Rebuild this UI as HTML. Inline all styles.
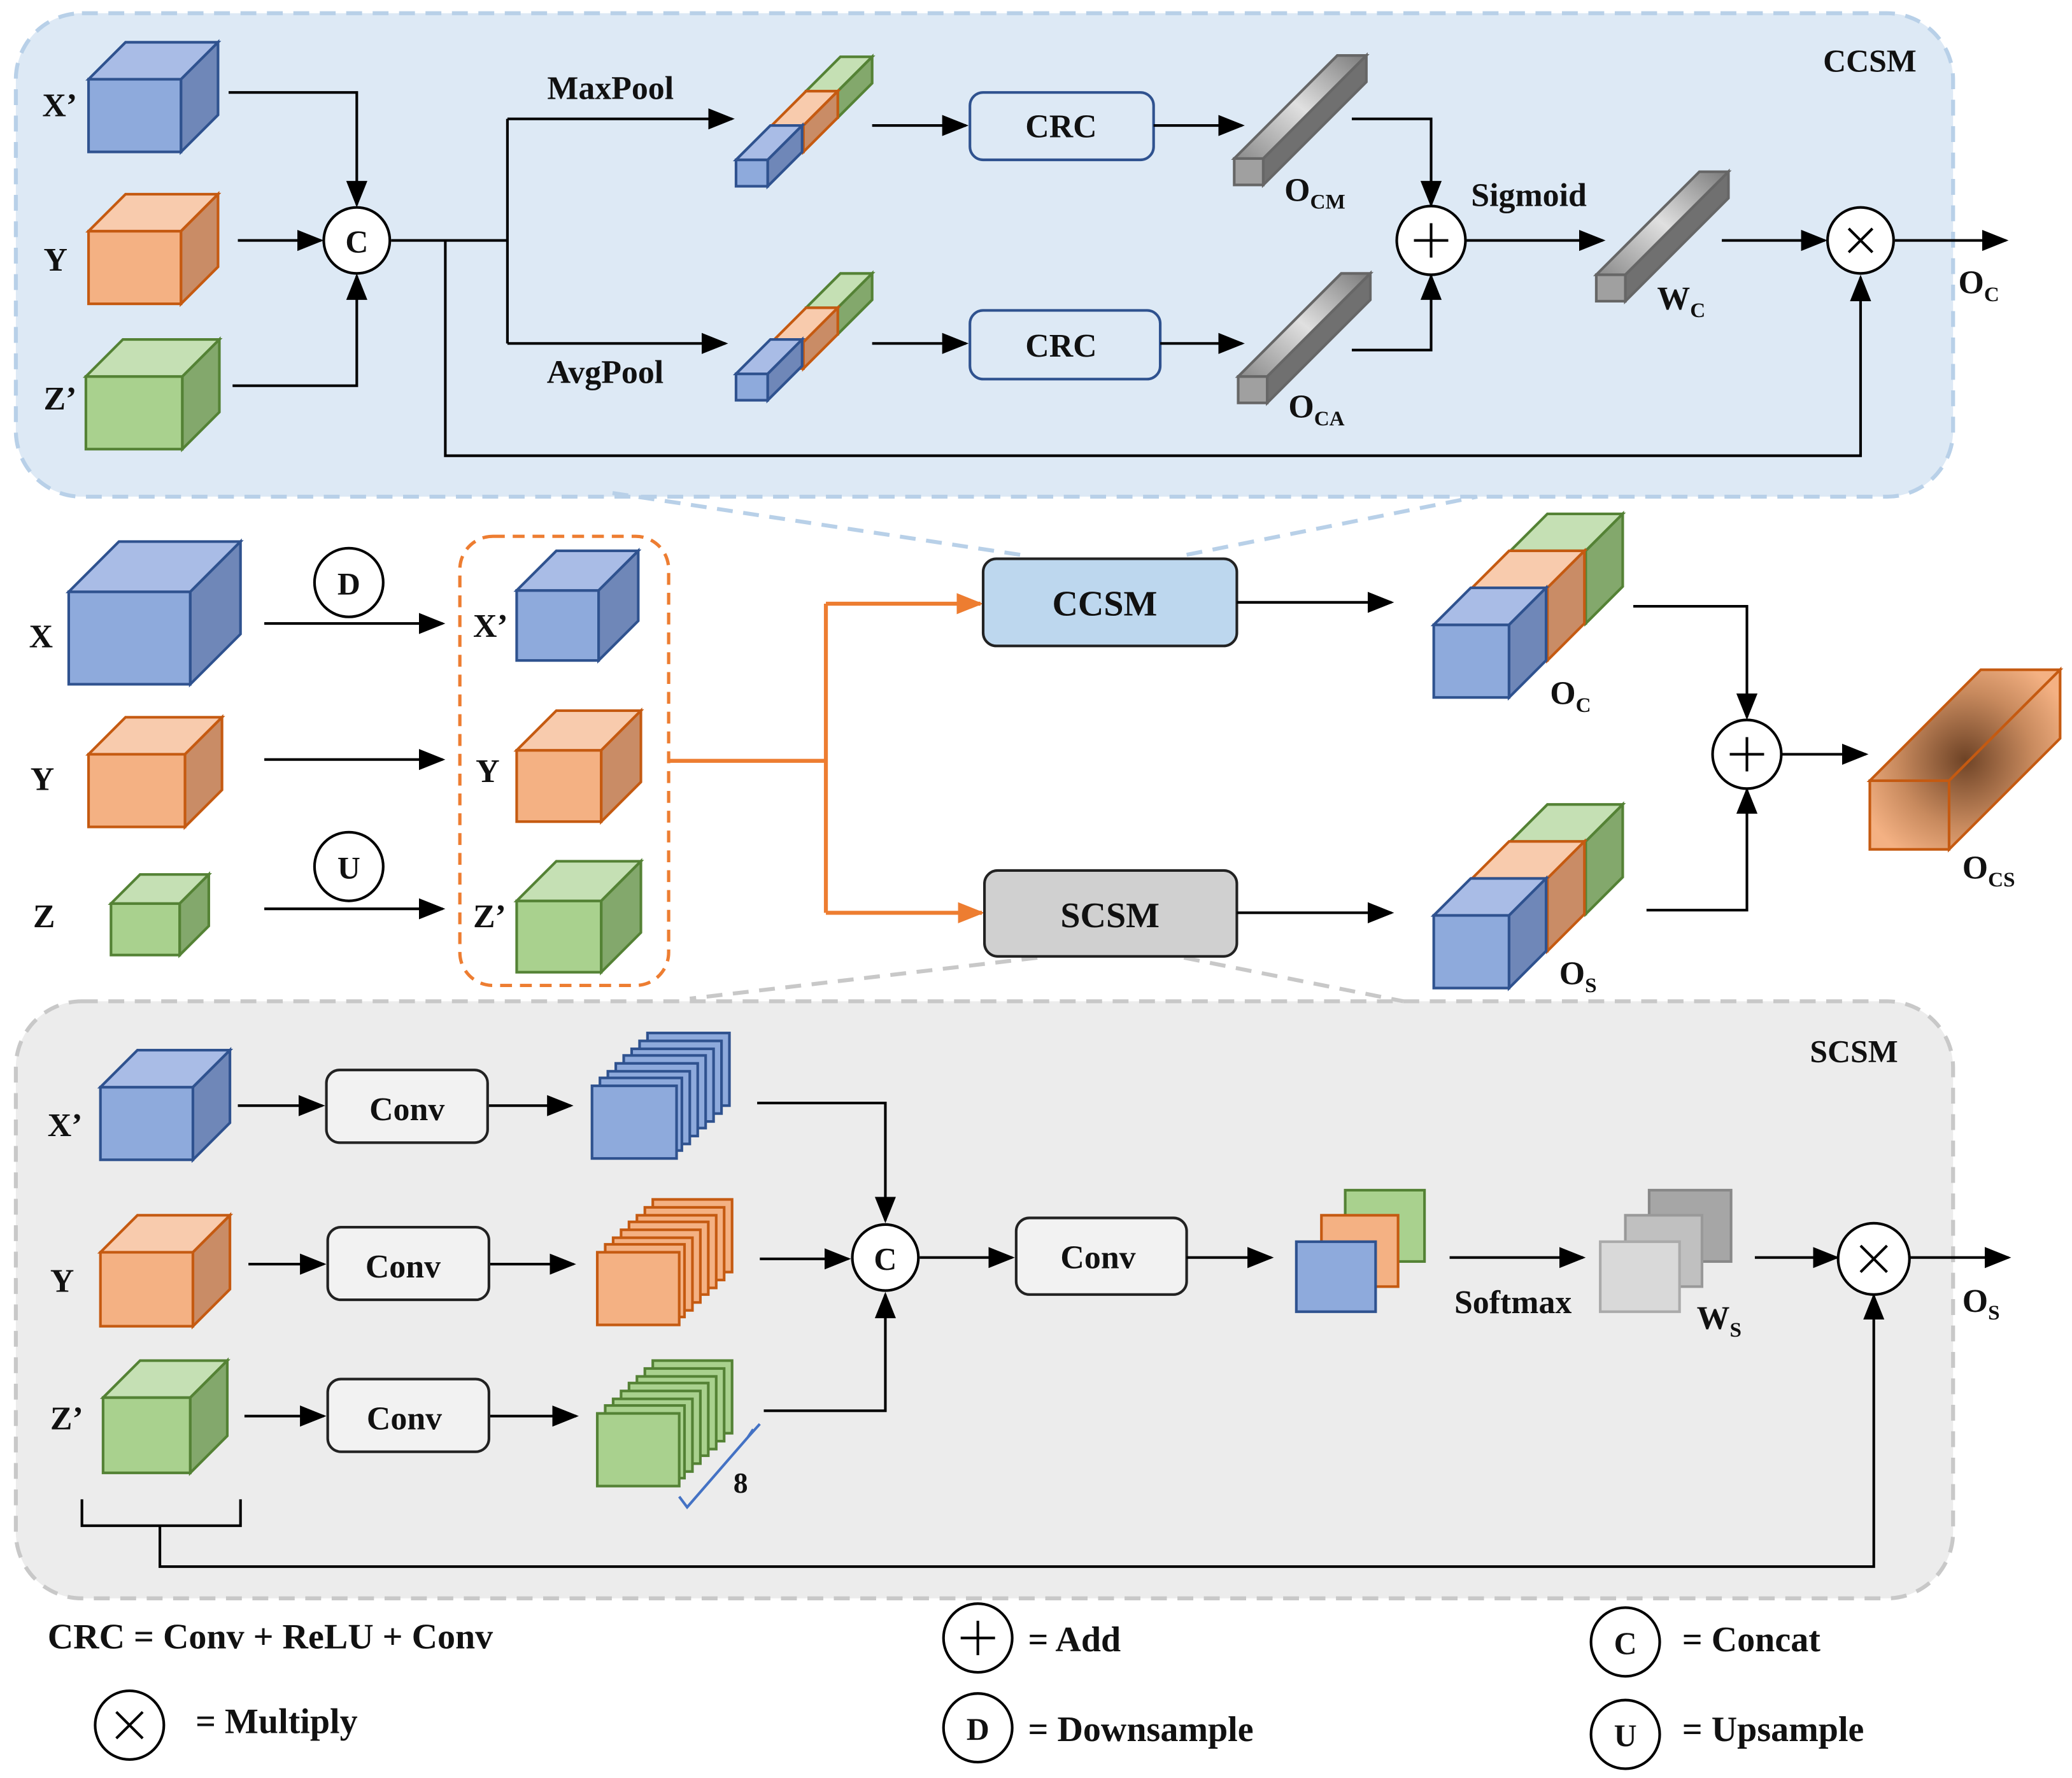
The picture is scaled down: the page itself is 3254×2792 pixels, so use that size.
<!DOCTYPE html>
<html><head><meta charset="utf-8"><style>
html,body{margin:0;padding:0;background:#fff;}
svg{display:block;}
text{font-family:"Liberation Serif",serif;font-weight:bold;fill:#111;}
</style></head><body>
<svg width="3254" height="2792" viewBox="0 0 1568 1346" preserveAspectRatio="none" xmlns="http://www.w3.org/2000/svg">
<defs>
<marker id="ao" markerWidth="20" markerHeight="20" refX="18" refY="10" orient="auto" markerUnits="userSpaceOnUse" viewBox="0 0 20 20"><path d="M0,2 L20,10 L0,18 z" fill="#ed7d31"/></marker>
<marker id="ab" markerWidth="20" markerHeight="20" refX="18" refY="10" orient="auto" markerUnits="userSpaceOnUse" viewBox="0 0 20 20"><path d="M0,2 L20,10 L0,18 z" fill="#000"/></marker>
<linearGradient id="g" x1="0" y1="1" x2="1" y2="0"><stop offset="0" stop-color="#8a8a8a"/><stop offset="0.5" stop-color="#e0e0e0"/><stop offset="1" stop-color="#7a7a7a"/></linearGradient>
<radialGradient id="og" gradientUnits="userSpaceOnUse" cx="1487" cy="575" r="85"><stop offset="0" stop-color="#6e4326"/><stop offset="0.6" stop-color="#c88a5e"/><stop offset="1" stop-color="#f4b183"/></radialGradient>
</defs>
<style>
.l{stroke:#000;stroke-width:2;fill:none}
.ar{stroke:#000;stroke-width:2;fill:none;marker-end:url(#ab)}
.bf{fill:#8eaadc;stroke:#2f528f;stroke-width:2}.bt{fill:#a9bce6;stroke:#2f528f;stroke-width:2}.bs{fill:#6f87b8;stroke:#2f528f;stroke-width:2}
.of{fill:#f4b183;stroke:#c55a11;stroke-width:2}.ot{fill:#f8cbad;stroke:#c55a11;stroke-width:2}.os{fill:#c98c66;stroke:#c55a11;stroke-width:2}
.gf{fill:#a9d18e;stroke:#548235;stroke-width:2}.gt{fill:#c5e0b4;stroke:#548235;stroke-width:2}.gs{fill:#83a86c;stroke:#548235;stroke-width:2}
.yf{fill:#a0a0a0;stroke:#666;stroke-width:2}.yt{fill:url(#g);stroke:#666;stroke-width:2}.ys{fill:#707070;stroke:#666;stroke-width:2}
.c{fill:#fff;stroke:#000;stroke-width:2}
</style>

<rect x="12" y="10" width="1466" height="366" rx="50" fill="#dde9f5" stroke="#b8d0e8" stroke-width="3" stroke-dasharray="12,8"/>
<rect x="12" y="758" width="1466" height="452" rx="50" fill="#ececec" stroke="#c8c8c8" stroke-width="3" stroke-dasharray="12,8"/>
<text x="1415" y="54" font-size="24" text-anchor="middle">CCSM</text>
<text x="1403" y="804" font-size="24" text-anchor="middle">SCSM</text>

<g><rect class="bf" x="67" y="60" width="70" height="55"/><polygon class="bt" points="67,60 95,32 165,32 137,60"/><polygon class="bs" points="137,60 165,32 165,87 137,115"/></g>
<g><rect class="of" x="67" y="175" width="70" height="55"/><polygon class="ot" points="67,175 95,147 165,147 137,175"/><polygon class="os" points="137,175 165,147 165,202 137,230"/></g>
<g><rect class="gf" x="65" y="285" width="73" height="55"/><polygon class="gt" points="65,285 93,257 166,257 138,285"/><polygon class="gs" points="138,285 166,257 166,312 138,340"/></g>
<text x="32" y="88" font-size="25">X’</text><text x="33" y="205" font-size="25">Y</text><text x="33" y="310" font-size="25">Z’</text>

<path class="ar" d="M173,70 H270 V155"/>
<path class="ar" d="M180,182 H243"/>
<path class="ar" d="M176,292 H270 V209"/>
<circle class="c" cx="270" cy="182" r="25"/><text x="270" y="191" font-size="24" text-anchor="middle">C</text>
<path class="l" d="M296,182 H384"/>
<path class="l" d="M384,90 V260"/>
<path class="ar" d="M384,90 H554"/>
<path class="ar" d="M384,260 H549"/>
<path class="ar" d="M337,182 V345 H1408 V210"/>
<text x="462" y="75" font-size="25" text-anchor="middle">MaxPool</text>
<text x="458" y="290" font-size="25" text-anchor="middle">AvgPool</text>

<g><rect class="gf" x="610" y="69" width="24" height="20"/><polygon class="gt" points="610,69 636,43 660,43 634,69"/><polygon class="gs" points="634,69 660,43 660,63 634,89"/></g>
<g><rect class="of" x="584" y="95" width="24" height="20"/><polygon class="ot" points="584,95 610,69 634,69 608,95"/><polygon class="os" points="608,95 634,69 634,89 608,115"/></g>
<g><rect class="bf" x="557" y="121" width="24" height="20"/><polygon class="bt" points="557,121 583,95 607,95 581,121"/><polygon class="bs" points="581,121 607,95 607,115 581,141"/></g>
<g><rect class="gf" x="610" y="233" width="24" height="20"/><polygon class="gt" points="610,233 636,207 660,207 634,233"/><polygon class="gs" points="634,233 660,207 660,227 634,253"/></g>
<g><rect class="of" x="584" y="259" width="24" height="20"/><polygon class="ot" points="584,259 610,233 634,233 608,259"/><polygon class="os" points="608,259 634,233 634,253 608,279"/></g>
<g><rect class="bf" x="557" y="283" width="24" height="20"/><polygon class="bt" points="557,283 583,257 607,257 581,283"/><polygon class="bs" points="581,283 607,257 607,277 581,303"/></g>

<path class="ar" d="M660,95 H731"/>
<rect x="734" y="70" width="139" height="51" rx="10" fill="#dde9f5" stroke="#2f528f" stroke-width="2"/>
<text x="803" y="104" font-size="25" text-anchor="middle">CRC</text>
<path class="ar" d="M873,95 H940"/>
<path class="ar" d="M660,260 H731"/>
<rect x="734" y="235" width="144" height="52" rx="10" fill="#dde9f5" stroke="#2f528f" stroke-width="2"/>
<text x="803" y="270" font-size="25" text-anchor="middle">CRC</text>
<path class="ar" d="M878,260 H940"/>

<g><rect class="yf" x="934" y="120" width="22" height="20"/><polygon class="yt" points="934,120 1012,42 1034,42 956,120"/><polygon class="ys" points="956,120 1034,42 1034,62 956,140"/></g>
<g><rect class="yf" x="937" y="285" width="22" height="20"/><polygon class="yt" points="937,285 1015,207 1037,207 959,285"/><polygon class="ys" points="959,285 1037,207 1037,227 959,305"/></g>
<g><rect class="yf" x="1208" y="208" width="22" height="20"/><polygon class="yt" points="1208,208 1286,130 1308,130 1230,208"/><polygon class="ys" points="1230,208 1308,130 1308,150 1230,228"/></g>
<text x="972" y="152" font-size="25">O<tspan font-size="16" dy="6">CM</tspan></text>
<text x="975" y="316" font-size="25">O<tspan font-size="16" dy="6">CA</tspan></text>
<text x="1254" y="234" font-size="25">W<tspan font-size="16" dy="6">C</tspan></text>

<path class="ar" d="M1023,90 H1083 V155"/>
<path class="ar" d="M1023,265 H1083 V209"/>
<circle class="c" cx="1083" cy="182" r="26"/><path class="l" d="M1070,182 H1096 M1083,169 V195"/>
<path class="ar" d="M1110,182 H1213"/>
<text x="1157" y="156" font-size="25" text-anchor="middle">Sigmoid</text>
<path class="ar" d="M1303,182 H1381"/>
<circle class="c" cx="1408" cy="182" r="25"/><path class="l" d="M1399,173 L1417,191 M1417,173 L1399,191"/>
<path class="ar" d="M1434,182 H1518"/>
<text x="1482" y="222" font-size="25">O<tspan font-size="16" dy="6">C</tspan></text>

<path d="M772,420 L462,373" stroke="#b8d0e8" stroke-width="3" stroke-dasharray="12,8" fill="none"/>
<path d="M898,420 L1118,376" stroke="#b8d0e8" stroke-width="3" stroke-dasharray="12,8" fill="none"/>
<path d="M785,725 L522,756" stroke="#c8c8c8" stroke-width="3" stroke-dasharray="12,8" fill="none"/>
<path d="M896,725 L1062,758" stroke="#c8c8c8" stroke-width="3" stroke-dasharray="12,8" fill="none"/>

<g><rect class="bf" x="52" y="448" width="92" height="70"/><polygon class="bt" points="52,448 90,410 182,410 144,448"/><polygon class="bs" points="144,448 182,410 182,480 144,518"/></g>
<g><rect class="of" x="67" y="571" width="73" height="55"/><polygon class="ot" points="67,571 95,543 168,543 140,571"/><polygon class="os" points="140,571 168,543 168,598 140,626"/></g>
<g><rect class="gf" x="84" y="684" width="52" height="39"/><polygon class="gt" points="84,684 106,662 158,662 136,684"/><polygon class="gs" points="136,684 158,662 158,701 136,723"/></g>
<text x="22" y="490" font-size="25">X</text><text x="23" y="598" font-size="25">Y</text><text x="25" y="702" font-size="25">Z</text>
<circle class="c" cx="264" cy="441" r="26"/><text x="264" y="450" font-size="24" text-anchor="middle">D</text>
<circle class="c" cx="264" cy="656" r="26"/><text x="264" y="665" font-size="24" text-anchor="middle">U</text>
<path class="ar" d="M200,472 H335"/><path class="ar" d="M200,575 H335"/><path class="ar" d="M200,688 H335"/>
<rect x="348" y="406" width="158" height="340" rx="25" fill="none" stroke="#ed7d31" stroke-width="2.5" stroke-dasharray="9,6"/>
<g><rect class="bf" x="391" y="447" width="62" height="53"/><polygon class="bt" points="391,447 421,417 483,417 453,447"/><polygon class="bs" points="453,447 483,417 483,470 453,500"/></g>
<g><rect class="of" x="391" y="568" width="64" height="54"/><polygon class="ot" points="391,568 421,538 485,538 455,568"/><polygon class="os" points="455,568 485,538 485,592 455,622"/></g>
<g><rect class="gf" x="391" y="682" width="64" height="54"/><polygon class="gt" points="391,682 421,652 485,652 455,682"/><polygon class="gs" points="455,682 485,652 485,706 455,736"/></g>
<text x="358" y="482" font-size="25">X’</text><text x="360" y="592" font-size="25">Y</text><text x="358" y="702" font-size="25">Z’</text>
<path d="M506,576 H625 M625,457 V691" stroke="#ed7d31" stroke-width="3" fill="none"/>
<path d="M625,457 H742" stroke="#ed7d31" stroke-width="3" fill="none" marker-end="url(#ao)"/>
<path d="M625,691 H743" stroke="#ed7d31" stroke-width="3" fill="none" marker-end="url(#ao)"/>
<rect x="744" y="423" width="192" height="66" rx="10" fill="#bdd7ee" stroke="#222" stroke-width="2"/>
<text x="836" y="466" font-size="27" text-anchor="middle">CCSM</text>
<rect x="745" y="659" width="191" height="65" rx="10" fill="#d0d0d0" stroke="#222" stroke-width="2"/>
<text x="840" y="702" font-size="27" text-anchor="middle">SCSM</text>
<path class="ar" d="M936,456 H1053"/><path class="ar" d="M936,691 H1053"/>

<g><rect class="gf" x="1143" y="417" width="57" height="55"/><polygon class="gt" points="1143,417 1171,389 1228,389 1200,417"/><polygon class="gs" points="1200,417 1228,389 1228,444 1200,472"/></g>
<g><rect class="of" x="1114" y="445" width="57" height="55"/><polygon class="ot" points="1114,445 1142,417 1199,417 1171,445"/><polygon class="os" points="1171,445 1199,417 1199,472 1171,500"/></g>
<g><rect class="bf" x="1085" y="473" width="57" height="55"/><polygon class="bt" points="1085,473 1113,445 1170,445 1142,473"/><polygon class="bs" points="1142,473 1170,445 1170,500 1142,528"/></g>
<g><rect class="gf" x="1143" y="637" width="57" height="55"/><polygon class="gt" points="1143,637 1171,609 1228,609 1200,637"/><polygon class="gs" points="1200,637 1228,609 1228,664 1200,692"/></g>
<g><rect class="of" x="1114" y="665" width="57" height="55"/><polygon class="ot" points="1114,665 1142,637 1199,637 1171,665"/><polygon class="os" points="1171,665 1199,637 1199,692 1171,720"/></g>
<g><rect class="bf" x="1085" y="693" width="57" height="55"/><polygon class="bt" points="1085,693 1113,665 1170,665 1142,693"/><polygon class="bs" points="1142,693 1170,665 1170,720 1142,748"/></g>
<text x="1173" y="533" font-size="25">O<tspan font-size="16" dy="6">C</tspan></text>
<text x="1180" y="745" font-size="25">O<tspan font-size="16" dy="6">S</tspan></text>
<path class="ar" d="M1236,459 H1322 V543"/>
<path class="ar" d="M1246,689 H1322 V598"/>
<circle class="c" cx="1322" cy="571" r="26"/><path class="l" d="M1309,571 H1335 M1322,558 V584"/>
<path class="ar" d="M1348,571 H1412"/>
<g fill="url(#og)" stroke="#c55a11" stroke-width="2"><rect x="1415" y="591" width="60" height="52"/><polygon points="1415,591 1499,507 1559,507 1475,591"/><polygon points="1475,591 1559,507 1559,559 1475,643"/></g>
<text x="1485" y="665" font-size="25">O<tspan font-size="16" dy="6">CS</tspan></text>

<g><rect class="bf" x="76" y="823" width="70" height="55"/><polygon class="bt" points="76,823 104,795 174,795 146,823"/><polygon class="bs" points="146,823 174,795 174,850 146,878"/></g>
<g><rect class="of" x="76" y="948" width="70" height="56"/><polygon class="ot" points="76,948 104,920 174,920 146,948"/><polygon class="os" points="146,948 174,920 174,976 146,1004"/></g>
<g><rect class="gf" x="78" y="1058" width="66" height="57"/><polygon class="gt" points="78,1058 106,1030 172,1030 144,1058"/><polygon class="gs" points="144,1058 172,1030 172,1087 144,1115"/></g>
<text x="36" y="860" font-size="25">X’</text><text x="38" y="978" font-size="25">Y</text><text x="38" y="1082" font-size="25">Z’</text>

<path class="ar" d="M180,837 H244"/><path class="ar" d="M188,957 H245"/><path class="ar" d="M185,1072 H245"/>
<rect x="247" y="810" width="122" height="55" rx="10" fill="#f2f2f2" stroke="#222" stroke-width="2"/><text x="308" y="848" font-size="25" text-anchor="middle">Conv</text>
<rect x="248" y="929" width="122" height="55" rx="10" fill="#f2f2f2" stroke="#222" stroke-width="2"/><text x="305" y="967" font-size="25" text-anchor="middle">Conv</text>
<rect x="248" y="1044" width="122" height="55" rx="10" fill="#f2f2f2" stroke="#222" stroke-width="2"/><text x="306" y="1082" font-size="25" text-anchor="middle">Conv</text>
<path class="ar" d="M370,837 H432"/><path class="ar" d="M371,957 H434"/><path class="ar" d="M371,1072 H436"/>

<g class="bf">
<rect x="490" y="782" width="62" height="55"/><rect x="484" y="788" width="62" height="55"/><rect x="478" y="794" width="62" height="55"/><rect x="472" y="799" width="62" height="55"/><rect x="466" y="805" width="62" height="55"/><rect x="460" y="811" width="62" height="55"/><rect x="454" y="816" width="62" height="55"/><rect x="448" y="822" width="64" height="55"/>
</g>
<g class="of">
<rect x="494" y="908" width="60" height="55"/><rect x="488" y="914" width="60" height="55"/><rect x="482" y="920" width="60" height="55"/><rect x="476" y="925" width="60" height="55"/><rect x="470" y="931" width="60" height="55"/><rect x="464" y="937" width="60" height="55"/><rect x="458" y="942" width="60" height="55"/><rect x="452" y="948" width="62" height="55"/>
</g>
<g class="gf">
<rect x="494" y="1030" width="60" height="55"/><rect x="488" y="1036" width="60" height="55"/><rect x="482" y="1042" width="60" height="55"/><rect x="476" y="1047" width="60" height="55"/><rect x="470" y="1053" width="60" height="55"/><rect x="464" y="1059" width="60" height="55"/><rect x="458" y="1064" width="60" height="55"/><rect x="452" y="1070" width="62" height="55"/>
</g>
<path d="M514,1133 L520,1141 L566,1088 L575,1078 M566,1088 L570,1082" stroke="#4472c4" stroke-width="2" fill="none"/>
<text x="555" y="1130" font-size="22">8</text>

<path class="ar" d="M573,835 H670 V924"/>
<path class="ar" d="M575,953 H642"/>
<path class="ar" d="M578,1068 H670 V980"/>
<circle class="c" cx="670" cy="952" r="25"/><text x="670" y="961" font-size="24" text-anchor="middle">C</text>
<path class="ar" d="M696,952 H766"/>
<rect x="769" y="922" width="129" height="58" rx="10" fill="#f2f2f2" stroke="#222" stroke-width="2"/><text x="831" y="960" font-size="25" text-anchor="middle">Conv</text>
<path class="ar" d="M898,952 H962"/>
<rect x="1018" y="901" width="60" height="54" fill="#a9d18e" stroke="#548235" stroke-width="2"/>
<rect x="1000" y="920" width="58" height="54" fill="#f4b183" stroke="#c55a11" stroke-width="2"/>
<rect x="981" y="940" width="60" height="53" fill="#8eaadc" stroke="#2f528f" stroke-width="2"/>
<path class="ar" d="M1097,952 H1198"/>
<text x="1145" y="994" font-size="25" text-anchor="middle">Softmax</text>
<rect x="1248" y="901" width="62" height="54" fill="#a6a6a6" stroke="#888" stroke-width="2"/>
<rect x="1230" y="920" width="58" height="54" fill="#c0c0c0" stroke="#999" stroke-width="2"/>
<rect x="1211" y="940" width="60" height="53" fill="#d9d9d9" stroke="#aaa" stroke-width="2"/>
<text x="1284" y="1006" font-size="25">W<tspan font-size="16" dy="6">S</tspan></text>
<path class="ar" d="M1328,952 H1390"/>
<circle class="c" cx="1418" cy="953" r="27"/><path class="l" d="M1408,943 L1428,963 M1428,943 L1408,963"/>
<path class="ar" d="M1445,952 H1520"/>
<text x="1485" y="993" font-size="25">O<tspan font-size="16" dy="6">S</tspan></text>
<path class="l" d="M62,1135 V1155 H182 V1135"/>
<path class="ar" d="M121,1155 V1186 H1418 V981"/>

<text x="36" y="1248" font-size="27">CRC = Conv + ReLU + Conv</text>
<circle class="c" cx="98" cy="1306" r="26"/><path class="l" d="M88,1296 L108,1316 M108,1296 L88,1316"/>
<text x="148" y="1312" font-size="27">= Multiply</text>
<circle class="c" cx="740" cy="1240" r="26"/><path class="l" d="M727,1240 H753 M740,1227 V1253"/>
<text x="778" y="1250" font-size="27">= Add</text>
<circle class="c" cx="740" cy="1308" r="26"/><text x="740" y="1317" font-size="24" text-anchor="middle">D</text>
<text x="778" y="1318" font-size="27">= Downsample</text>
<circle class="c" cx="1230" cy="1243" r="26"/><text x="1230" y="1252" font-size="24" text-anchor="middle">C</text>
<text x="1273" y="1250" font-size="27">= Concat</text>
<circle class="c" cx="1230" cy="1313" r="26"/><text x="1230" y="1322" font-size="24" text-anchor="middle">U</text>
<text x="1273" y="1318" font-size="27">= Upsample</text>
</svg>
</body></html>
